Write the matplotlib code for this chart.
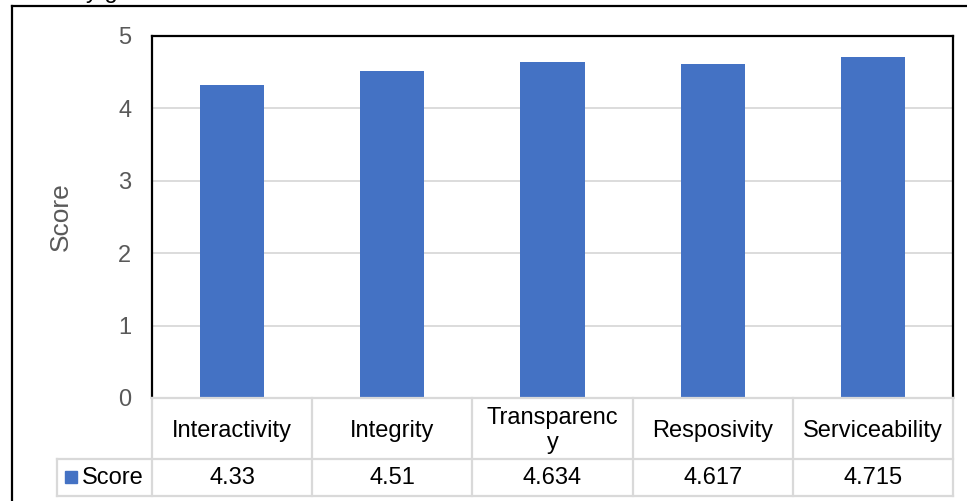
import matplotlib.pyplot as plt
from matplotlib.lines import Line2D
from matplotlib.patches import Rectangle
from matplotlib.transforms import blended_transform_factory

# ---------------------------------------------------------
# DATA
# ---------------------------------------------------------
categories = ["Interactivity", "Integrity", "Transparenc\ny", "Resposivity", "Serviceability"]
scores = [4.33, 4.51, 4.634, 4.617, 4.715]
score_labels = ["4.33", "4.51", "4.634", "4.617", "4.715"]
series_name = "Score"
y_ticks = [0, 1, 2, 3, 4, 5]

BAR_COLOR = "#4472C4"
GRID_COLOR = "#D9D9D9"
TICK_COLOR = "#595959"
FONT = "Liberation Sans"
FS = 17

W, H = 967, 501


def fx(px):
    return px / W


def fy(py):
    return 1 - py / H


fig = plt.figure(figsize=(W / 100, H / 100), dpi=100)
plt.rcParams["font.family"] = [FONT, "DejaVu Sans"]

# outer chart frame (runs off the right/bottom edge)
fig.add_artist(Line2D([fx(12), fx(12)], [fy(6), fy(H + 5)], color="black", lw=1.6,
                      transform=fig.transFigure))
fig.add_artist(Line2D([fx(12), fx(W + 5)], [fy(6), fy(6)], color="black", lw=1.6,
                      transform=fig.transFigure))

# caption text from above, only its descenders show
fig.text(fx(86), fy(-2), "y g", fontsize=FS, va="baseline", ha="left", color="black")

# ---------------------------------------------------------
# BAR PLOT
# ---------------------------------------------------------
ax = fig.add_axes([fx(152), fy(398), fx(953) - fx(152), fy(36) - fy(398)])
x = list(range(len(categories)))
ax.bar(x, scores, width=0.4, color=BAR_COLOR, zorder=3)

ax.set_xlim(-0.5, len(categories) - 0.5)
ax.set_ylim(0, 5)
ax.set_yticks(y_ticks)
ax.set_yticklabels([str(t) for t in y_ticks], fontsize=FS, color=TICK_COLOR)
ax.tick_params(axis="y", length=0, pad=15)
ax.set_xticks([])
ax.grid(axis="y", color=GRID_COLOR, lw=1.3, zorder=0)

for side in ["left", "right", "top"]:
    ax.spines[side].set_color("black")
    ax.spines[side].set_linewidth(1.6)
ax.spines["bottom"].set_visible(False)

ax.set_ylabel("Score", fontsize=19, color=TICK_COLOR, va="center")
ax.yaxis.set_label_coords((61 - 152) / 801, 0.5)

# ---------------------------------------------------------
# DATA TABLE BELOW THE AXIS
# ---------------------------------------------------------
tr = blended_transform_factory(ax.transData, fig.transFigure)
row_top, row_mid, row_bot = 398, 459, 496
left_cell = 57
edges = [i - 0.5 for i in range(len(categories) + 1)]

def tline(xs, ys, transform):
    fig.add_artist(Line2D(xs, ys, color=GRID_COLOR, lw=1.6, transform=transform, zorder=1))

for e in edges:
    tline([e, e], [fy(row_top), fy(row_bot)], tr)
tline([edges[0], edges[-1]], [fy(row_top), fy(row_top)], tr)
for r in (row_mid, row_bot):
    tline([fx(left_cell), fx(953)], [fy(r), fy(r)], fig.transFigure)
tline([fx(left_cell), fx(left_cell)], [fy(row_mid), fy(row_bot)], fig.transFigure)

for i, (cat, lab) in enumerate(zip(categories, score_labels)):
    fig.text(0, 0, cat, transform=tr, fontsize=FS, ha="center", va="center",
             linespacing=1.15).set_position((i, fy((row_top + row_mid) / 2 + 2)))
    fig.text(0, 0, lab, transform=tr, fontsize=FS, ha="center", va="center"
             ).set_position((i, fy((row_mid + row_bot) / 2 + 1)))

# legend key in the series cell
fig.add_artist(Rectangle((fx(65), fy(483)), fx(77) - fx(65), fy(471) - fy(483),
                         color=BAR_COLOR, transform=fig.transFigure))
fig.text(fx(82), fy((row_mid + row_bot) / 2 + 1), series_name, fontsize=FS,
         ha="left", va="center")

fig.savefig("out.png", dpi=100)
